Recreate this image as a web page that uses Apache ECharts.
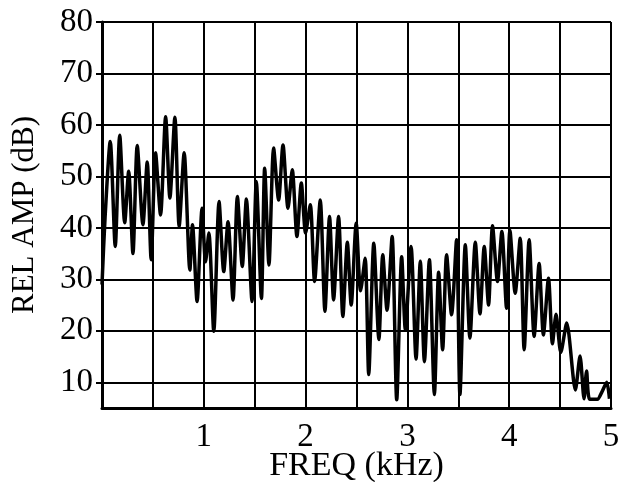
<!DOCTYPE html>
<html>
<head>
<meta charset="utf-8">
<script src="https://cdn.jsdelivr.net/npm/echarts@6/dist/echarts.min.js"></script>
<style>
html,body{margin:0;padding:0;background:#fff;}
#chart{width:618px;height:482px;}
</style>
</head>
<body>
<div id="chart"></div>
<script>
// Frequency (kHz) of each peak/trough
var freq = [
  0.000, 0.030, 0.081, 0.130, 0.174, 0.223, 0.262, 0.304, 0.346, 0.402,
  0.444, 0.483, 0.526, 0.575, 0.625, 0.667, 0.716, 0.758, 0.807, 0.863,
  0.889, 0.934, 0.983, 1.017, 1.050, 1.098, 1.150, 1.196, 1.238, 1.287,
  1.330, 1.378, 1.418, 1.474, 1.516, 1.566, 1.598, 1.640, 1.686, 1.735,
  1.778, 1.827, 1.869, 1.915, 1.958, 2.000, 2.046, 2.088, 2.144, 2.190,
  2.235, 2.275, 2.324, 2.366, 2.410, 2.448, 2.497, 2.540, 2.585, 2.620,
  2.670, 2.720, 2.758, 2.800, 2.850, 2.895, 2.944, 2.980, 3.036, 3.085,
  3.127, 3.167, 3.216, 3.265, 3.307, 3.346, 3.385, 3.434, 3.483, 3.516,
  3.569, 3.614, 3.667, 3.713, 3.755, 3.797, 3.836, 3.885, 3.928, 3.974,
  4.007, 4.059, 4.108, 4.147, 4.196, 4.245, 4.294, 4.336, 4.386, 4.425,
  4.460, 4.507, 4.565, 4.650, 4.696, 4.735, 4.760, 4.790, 4.866, 4.910,
  4.958, 4.985
];
// Relative amplitude (dB) at each of those points
var amp = [
  29.0, 42.0, 56.8, 36.4, 58.0, 41.0, 51.0, 35.0, 56.0, 40.6,
  52.8, 33.8, 54.6, 42.5, 61.6, 45.8, 61.5, 40.3, 54.6, 31.8,
  40.6, 25.7, 43.8, 33.4, 39.0, 19.9, 45.1, 31.5, 41.2, 26.0,
  46.1, 32.5, 45.6, 25.7, 49.0, 26.3, 51.6, 32.8, 55.5, 45.4,
  56.1, 43.8, 51.3, 38.3, 48.7, 39.0, 44.5, 29.6, 45.4, 23.8,
  42.2, 26.0, 42.2, 22.8, 37.2, 25.0, 40.9, 27.8, 34.1, 11.5,
  37.0, 18.3, 34.8, 24.0, 38.3, 6.6, 34.4, 20.2, 36.4, 14.5,
  33.5, 14.0, 33.8, 7.6, 31.4, 16.3, 34.8, 23.1, 37.7, 7.6,
  36.7, 18.6, 37.2, 23.3, 36.4, 25.0, 40.4, 29.6, 39.3, 24.4,
  39.5, 27.3, 38.0, 16.3, 37.7, 18.9, 33.1, 19.2, 30.2, 17.5,
  23.2, 15.8, 21.5, 8.5, 15.1, 6.8, 12.2, 6.7, 6.7, 8.1,
  10.0, 6.8
];
var xTickLabels = ['1', '2', '3', '4', '5'];
var yTicks = [10, 20, 30, 40, 50, 60, 70, 80];

var seriesData = freq.map(function (f, i) { return [f, amp[i]]; });
var fontFam = '"Liberation Serif", "DejaVu Serif", serif';

var chart = echarts.init(document.getElementById('chart'), null, {renderer: 'canvas'});
chart.setOption({
  animation: false,
  backgroundColor: '#ffffff',
  grid: {left: 102, right: 7, top: 22, bottom: 74, containLabel: false, outerBoundsMode: 'none'},
  xAxis: {
    type: 'value', min: 0, max: 5, interval: 0.5,
    name: 'FREQ (kHz)', nameLocation: 'middle', nameGap: 41, nameMoveOverlap: false,
    nameTextStyle: {fontFamily: fontFam, fontSize: 34, color: '#000'},
    axisLine: {show: true, lineStyle: {color: '#000', width: 3}},
    axisTick: {show: false},
    axisLabel: {
      margin: 13, fontFamily: fontFam, fontSize: 33, color: '#000',
      formatter: function (v) {
        var s = String(Math.round(v));
        return (Math.abs(v - Math.round(v)) < 1e-6 && xTickLabels.indexOf(s) >= 0) ? s : '';
      }
    },
    splitLine: {show: true, lineStyle: {color: '#000', width: 2}}
  },
  yAxis: {
    type: 'value', min: 5, max: 80,
    name: 'REL AMP (dB)', nameLocation: 'middle', nameGap: 62, nameRotate: 90,
    nameTextStyle: {fontFamily: fontFam, fontSize: 31, color: '#000'},
    axisLine: {show: true, lineStyle: {color: '#000', width: 3}},
    axisTick: {show: true, inside: false, length: 6, customValues: yTicks,
      lineStyle: {color: '#000', width: 2}},
    axisLabel: {
      margin: 9, fontFamily: fontFam, fontSize: 33, color: '#000',
      customValues: yTicks
    },
    splitLine: {show: true, lineStyle: {color: '#000', width: 2}}
  },
  series: [{
    type: 'line',
    data: seriesData,
    smooth: 0.25,
    symbol: 'none',
    lineStyle: {color: '#000', width: 3.5},
    clip: true
  }]
});
</script>
</body>
</html>
